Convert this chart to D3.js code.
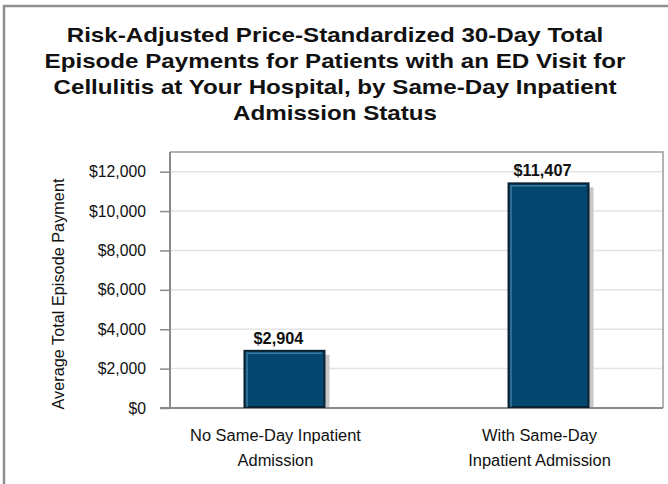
<!DOCTYPE html>
<html>
<head>
<meta charset="utf-8">
<script src="https://cdn.jsdelivr.net/npm/d3@7"></script>
<style>
  body { margin: 0; background: #fff; }
  svg { display: block; font-family: "Liberation Sans", Arial, sans-serif; }
</style>
</head>
<body>
<svg width="668" height="484"></svg>
<script>
var titleLines = ['Risk-Adjusted Price-Standardized 30-Day Total',
    'Episode Payments for Patients with an ED Visit for',
    'Cellulitis at Your Hospital, by Same-Day Inpatient',
    'Admission Status'];

var categories = ['No Same-Day Inpatient Admission', 'With Same-Day Inpatient Admission'];
var categoryLines = [['No Same-Day Inpatient', 'Admission'], ['With Same-Day', 'Inpatient Admission']];
var payments = [2904, 11407];
var yTicks = [0, 2000, 4000, 6000, 8000, 10000, 12000];
var yLabel = 'Average Total Episode Payment';

var svg = d3.select('svg');
var money = function(d){ return '$' + d3.format(',')(d); };

// font size that gives a string a wanted width
function fitSize(str, weight, width) {
    var t = svg.append('text').attr('font-size', 20).attr('font-weight', weight).text(str);
    var w = t.node().getComputedTextLength();
    t.remove();
    return 20 * width / w;
}

// title glyphs are wider than plain Arial, so stretch them
var titleStretch = fitSize(titleLines[0], 'bold', 537) / 20;
var tickSize = fitSize('$12,000', 'normal', 57);
var catSize = fitSize(categoryLines[0][0], 'normal', 171);
var yLabelSize = fitSize(yLabel, 'normal', 231);
var valueSize = fitSize(money(payments[1]), 'bold', 58);

// outer frame (only top and left show in the picture)
svg.append('path')
    .attr('d', 'M4,484 V6 H668')
    .attr('fill', 'none')
    .attr('stroke', '#8f8f8f')
    .attr('stroke-width', 2.5);

// title
svg.append('g')
    .attr('transform', 'translate(335,0) scale(' + titleStretch + ',1)')
    .selectAll('text')
    .data(titleLines)
    .enter()
    .append('text')
    .attr('x', 0)
    .attr('y', function(d, i){ return 42 + i * 26; })
    .attr('text-anchor', 'middle')
    .attr('font-size', 20)
    .attr('font-weight', 'bold')
    .attr('fill', '#111')
    .text(function(d){ return d; });

var pLeft = 170, pRight = 663, pTop = 152, pBottom = 408;

var y = d3.scaleLinear().domain([0, 13000]).range([pBottom, pTop]);
var x = d3.scaleBand().domain(categories).range([pLeft, pRight])
    .paddingInner(0.697).paddingOuter(0.282);

// gridlines
svg.append('g').selectAll('line')
    .data(yTicks.slice(1))
    .enter()
    .append('line')
    .attr('x1', pLeft)
    .attr('x2', pRight)
    .attr('y1', function(d){ return y(d); })
    .attr('y2', function(d){ return y(d); })
    .attr('stroke', '#e3e3e3')
    .attr('stroke-width', 1.5);

// plot box
svg.append('path')
    .attr('d', 'M' + pLeft + ',' + pTop + ' H' + pRight + ' V' + pBottom)
    .attr('fill', 'none')
    .attr('stroke', '#9a9a9a')
    .attr('stroke-width', 1.5);

// y axis
var yAxis = svg.append('g')
    .attr('transform', 'translate(' + pLeft + ',0)')
    .call(d3.axisLeft(y).tickValues(yTicks).tickSize(10).tickPadding(14).tickFormat(money));
yAxis.select('.domain').attr('stroke', '#8a8a8a').attr('stroke-width', 2)
    .attr('d', 'M0,' + pTop + 'V' + pBottom);
yAxis.selectAll('.tick line').attr('stroke', '#8a8a8a').attr('stroke-width', 1.5);
yAxis.selectAll('.tick text')
    .attr('font-size', tickSize)
    .attr('font-family', '"Liberation Sans", Arial, sans-serif')
    .attr('fill', '#111');

// bottom axis line
svg.append('line')
    .attr('x1', pLeft - 10)
    .attr('x2', pRight)
    .attr('y1', pBottom)
    .attr('y2', pBottom)
    .attr('stroke', '#8a8a8a')
    .attr('stroke-width', 2);

// bar shadows
svg.append('g').selectAll('rect')
    .data(payments)
    .enter()
    .append('rect')
    .attr('x', function(d, i){ return x(categories[i]) + 5; })
    .attr('y', function(d){ return y(d) + 4; })
    .attr('width', x.bandwidth())
    .attr('height', function(d){ return pBottom - y(d) - 5; })
    .attr('fill', '#c8c8c8');

// bars
svg.append('g').selectAll('rect')
    .data(payments)
    .enter()
    .append('rect')
    .attr('x', function(d, i){ return x(categories[i]); })
    .attr('y', function(d){ return y(d); })
    .attr('width', x.bandwidth())
    .attr('height', function(d){ return pBottom - y(d) - 1; })
    .attr('fill', '#03466f')
    .attr('stroke', '#0b2233')
    .attr('stroke-width', 2);

// bar highlight edge
svg.append('g').selectAll('path')
    .data(payments)
    .enter()
    .append('path')
    .attr('d', function(d, i){
        var bx = x(categories[i]) + 2.5, by = y(d) + 2.5;
        return 'M' + bx + ',' + (pBottom - 1) + ' V' + by + ' H' + (bx + x.bandwidth() - 5);
    })
    .attr('fill', 'none')
    .attr('stroke', '#3f7aa0')
    .attr('stroke-width', 1.5);

// value labels
svg.append('g').selectAll('text')
    .data(payments)
    .enter()
    .append('text')
    .attr('x', function(d, i){ return x(categories[i]) + x.bandwidth() / 2 - 6; })
    .attr('y', function(d){ return y(d) - 7; })
    .attr('text-anchor', 'middle')
    .attr('font-size', valueSize)
    .attr('font-weight', 'bold')
    .attr('fill', '#111')
    .text(money);

// category labels
var cat = svg.append('g').selectAll('text')
    .data(categoryLines)
    .enter()
    .append('text')
    .attr('text-anchor', 'middle')
    .attr('font-size', catSize)
    .attr('fill', '#111');
cat.selectAll('tspan')
    .data(function(d, i){ return d.map(function(s){ return {s: s, i: i}; }); })
    .enter()
    .append('tspan')
    .attr('x', function(d){ return x(categories[d.i]) + x.bandwidth() / 2 - 9; })
    .attr('y', function(d, j){ return 441 + j * 25; })
    .text(function(d){ return d.s; });

// y axis title
svg.append('text')
    .attr('transform', 'translate(64,294) rotate(-90)')
    .attr('text-anchor', 'middle')
    .attr('font-size', yLabelSize)
    .attr('fill', '#111')
    .text(yLabel);
</script>
</body>
</html>
